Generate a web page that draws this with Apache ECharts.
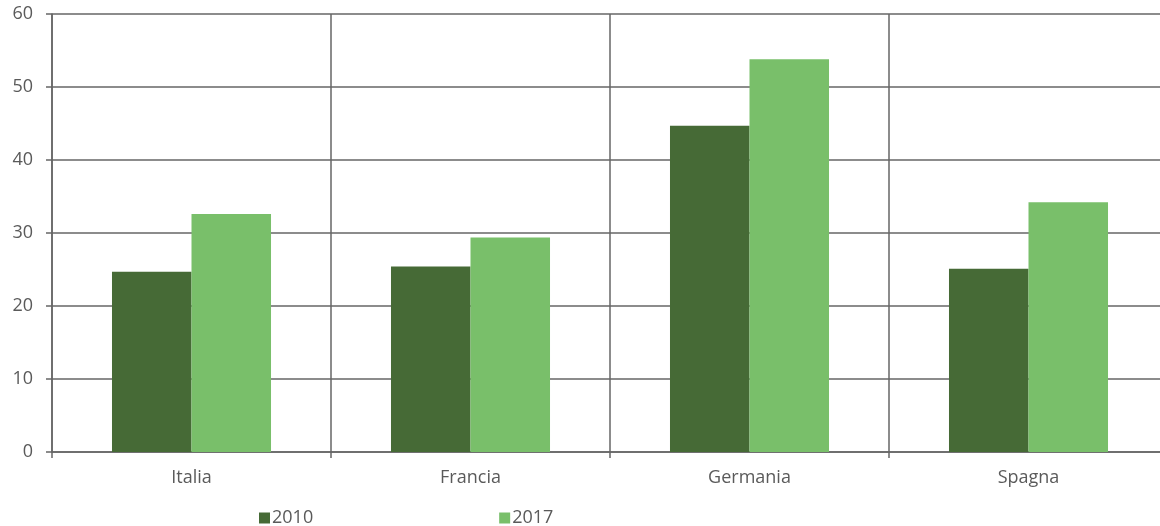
<!DOCTYPE html>
<html>
<head>
<meta charset="utf-8">
<script src="https://cdn.jsdelivr.net/npm/echarts@6/dist/echarts.min.js"></script>
<style>
  html, body { margin: 0; padding: 0; background: #fff; }
  #chart { width: 1160px; height: 526px; }
</style>
</head>
<body>
<div id="chart"></div>
<script>
// Paesi e valori per anno
const categories = ['Italia', 'Francia', 'Germania', 'Spagna'];
const values2010 = [24.7, 25.4, 44.7, 25.1];
const values2017 = [32.6, 29.4, 53.8, 34.2];
const seriesNames = ['2010', '2017'];

const gridColor = '#666666';
const labelColor = '#5a5a5a';
const font = '"Open Sans", "DejaVu Sans", sans-serif';

const chart = echarts.init(document.getElementById('chart'), null, { renderer: 'canvas' });

chart.setOption({
  animation: false,
  backgroundColor: '#fff',
  // the plot runs a little past the right edge of the canvas
  grid: { left: 52, top: 14, width: 1116, height: 438, containLabel: false, outerBoundsMode: 'none' },
  legend: {
    data: seriesNames,
    left: 254,
    top: 504,
    icon: 'rect',
    itemWidth: 11,
    itemHeight: 11,
    itemGap: 186,
    textStyle: { color: labelColor, fontSize: 18, fontFamily: font, padding: [0, 0, 0, -3] }
  },
  xAxis: {
    type: 'category',
    data: categories,
    axisLine: { show: true, lineStyle: { color: gridColor, width: 1.5 } },
    axisTick: { show: true, length: 6, lineStyle: { color: gridColor, width: 1.5 } },
    splitLine: { show: true, lineStyle: { color: gridColor, width: 1.5 } },
    axisLabel: { color: labelColor, fontSize: 18, fontFamily: font, margin: 17 }
  },
  yAxis: {
    type: 'value',
    min: 0,
    max: 60,
    interval: 10,
    axisLine: { show: true, lineStyle: { color: gridColor, width: 1.5 } },
    axisTick: { show: true, length: 6, lineStyle: { color: gridColor, width: 1.5 } },
    splitLine: { show: true, lineStyle: { color: gridColor, width: 1.5 } },
    axisLabel: { color: labelColor, fontSize: 18, fontFamily: font, margin: 19 }
  },
  series: [
    {
      name: seriesNames[0],
      type: 'bar',
      data: values2010,
      barGap: '0%',
      barCategoryGap: '43%',
      itemStyle: { color: '#466a36' }
    },
    {
      name: seriesNames[1],
      type: 'bar',
      data: values2017,
      itemStyle: { color: '#79bf6a' }
    }
  ]
});
</script>
</body>
</html>
